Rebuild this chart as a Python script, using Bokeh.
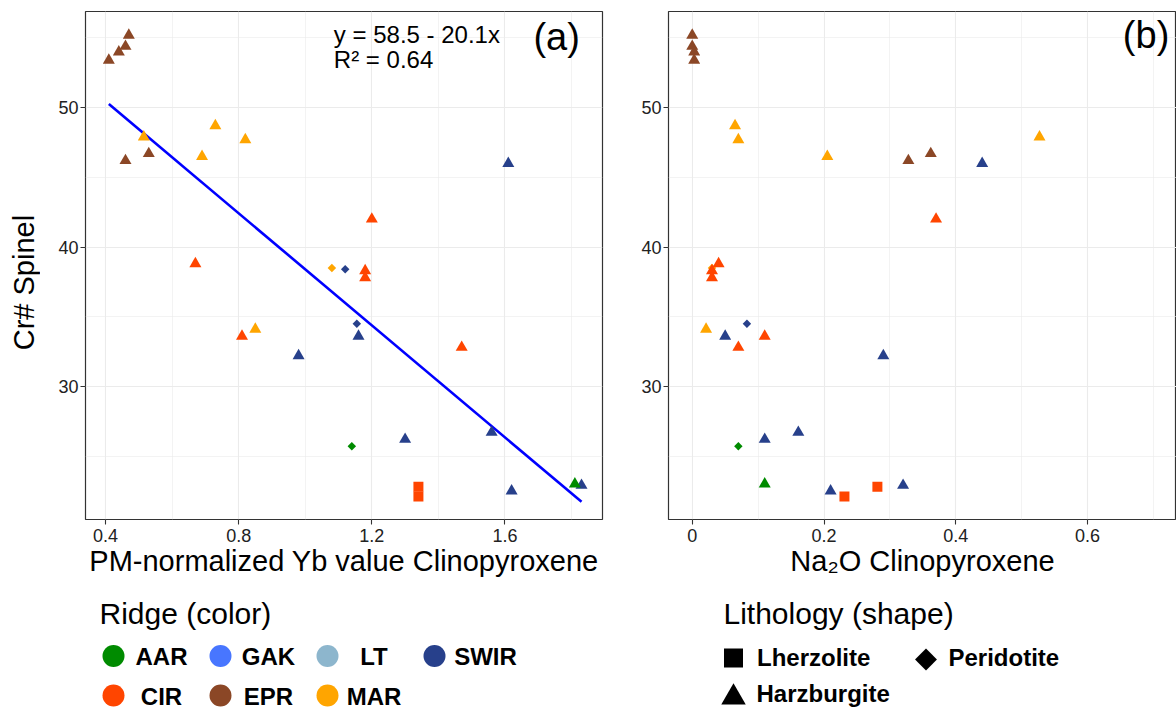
import math

from bokeh.core.properties import value
from bokeh.embed import file_html
from bokeh.layouts import column, row
from bokeh.models import ColumnDataSource, FixedTicker, Label, Range1d
from bokeh.plotting import figure
from bokeh.resources import INLINE

# ---- samples -------------------------------------------------------------
ridge = ["EPR", "EPR", "EPR", "EPR", "EPR", "EPR",
         "MAR", "MAR", "MAR", "MAR", "MAR", "MAR",
         "CIR", "CIR", "CIR", "CIR", "CIR", "CIR", "CIR", "CIR",
         "SWIR", "SWIR", "SWIR", "SWIR", "SWIR", "SWIR", "SWIR", "SWIR", "SWIR",
         "AAR", "AAR"]
lithology = ["Harzburgite"] * 6 + \
            ["Harzburgite"] * 5 + ["Peridotite"] + \
            ["Harzburgite"] * 6 + ["Lherzolite"] * 2 + \
            ["Harzburgite", "Peridotite", "Peridotite", "Harzburgite", "Harzburgite",
             "Harzburgite", "Harzburgite", "Harzburgite", "Harzburgite"] + \
            ["Peridotite", "Harzburgite"]
yb_pm = [0.47, 0.46, 0.44, 0.41, 0.46, 0.53,
         0.515, 0.73, 0.82, 0.69, 0.85, 1.08,
         0.67, 0.81, 1.18, 1.18, 1.47, 1.20, 1.34, 1.34,
         0.98, 1.12, 1.155, 1.16, 1.30, 1.56, 1.62, 1.83, 1.61,
         1.14, 1.81]
na2o_cpx = [0.000, 0.000, 0.003, 0.003, 0.328, 0.362,
            0.527, 0.065, 0.070, 0.205, 0.021, 0.030,
            0.040, 0.110, 0.030, 0.030, 0.070, 0.370, 0.281, 0.231,
            0.290, float("nan"), 0.083, 0.050, 0.110, 0.161, 0.210, 0.320, 0.440,
            0.070, 0.110]
cr_spinel = [55.2, 54.4, 54.0, 53.4, 46.2, 46.7,
             47.9, 48.7, 47.7, 46.5, 34.1, 38.5,
             38.8, 33.6, 38.3, 37.8, 32.8, 42.0, 22.8, 22.1,
             32.2, 38.4, 34.5, 33.6, 26.2, 26.7, 22.5, 22.9, 46.0,
             25.7, 23.0]

# linear fit of Cr# against PM-normalized Yb
fit_intercept = 58.5
fit_slope = -20.1
fit_r2 = 0.64

ridge_legend_rows = [["AAR", "GAK", "LT", "SWIR"], ["CIR", "EPR", "MAR"]]
ridge_colors = {"AAR": "#008B00", "GAK": "#4876FF", "LT": "#8DB6CD", "SWIR": "#27408B",
                "CIR": "#FF4500", "EPR": "#8B4726", "MAR": "#FFA500"}
lith_legend = ["Lherzolite", "Peridotite", "Harzburgite"]

x_ticks_a = [0.4, 0.8, 1.2, 1.6]
x_minor_a = [0.6, 1.0, 1.4, 1.8]
x_ticks_b = [0.0, 0.2, 0.4, 0.6]
x_minor_b = [0.1, 0.3, 0.5, 0.7]
y_ticks = [30, 40, 50]
y_minor = [25, 35, 45, 55]

# ---- styling -------------------------------------------------------------
FONT = "Liberation Sans"
marker_style = {
    "Harzburgite": ("triangle", 12.0, 0.0),
    "Lherzolite": ("square", 10.0, 0.0),
    "Peridotite": ("square", 6.0, math.pi / 4),
}

src = ColumnDataSource(dict(
    yb=yb_pm,
    na2o=na2o_cpx,
    cr=cr_spinel,
    color=[ridge_colors[r] for r in ridge],
    marker=[marker_style[l][0] for l in lithology],
    size=[marker_style[l][1] for l in lithology],
    angle=[marker_style[l][2] for l in lithology],
))

Y_RANGE = (20.45, 56.9)
TOP_H = 594  # height of the two panels incl. their axes


def style_panel(p, xt, xm):
    p.outline_line_color = "#333333"
    p.outline_line_width = 1.2
    p.background_fill_color = "white"
    p.border_fill_color = "white"
    for ax in (p.xaxis[0], p.yaxis[0]):
        ax.axis_line_color = None
        ax.major_tick_line_color = "#333333"
        ax.major_tick_line_width = 1.1
        ax.major_tick_in = 0
        ax.major_tick_out = 5
        ax.minor_tick_line_color = None
        ax.major_label_text_font = FONT
        ax.major_label_text_font_size = "18px"
        ax.major_label_text_color = "#222222"
        ax.axis_label_text_font = FONT
        ax.axis_label_text_font_size = "29px"
        ax.axis_label_text_font_style = "normal"
        ax.axis_label_text_color = "black"
    p.xaxis[0].ticker = FixedTicker(ticks=xt, minor_ticks=xm)
    p.yaxis[0].ticker = FixedTicker(ticks=y_ticks, minor_ticks=y_minor)
    p.xaxis[0].major_label_standoff = 4
    p.yaxis[0].major_label_standoff = 2
    p.xaxis[0].axis_label_standoff = 0
    for g in p.grid:
        g.grid_line_color = "#EBEBEB"
        g.grid_line_width = 1.1
        g.minor_grid_line_color = "#EBEBEB"
        g.minor_grid_line_width = 0.6


def add_points(p, xcol):
    p.scatter(x=xcol, y="cr", source=src, marker="marker", size="size", angle="angle",
              fill_color="color", line_color=None)


def blank_canvas(w, h, x_range, y_range):
    c = figure(width=w, height=h, min_border=0, x_range=x_range, y_range=y_range,
               x_axis_location=None, y_axis_location=None,
               output_backend="svg", toolbar_location=None)
    c.outline_line_color = None
    c.grid.visible = False
    c.background_fill_color = "white"
    c.border_fill_color = "white"
    return c


# ---- y title strip -------------------------------------------------------
p0 = blank_canvas(40, TOP_H, Range1d(0, 40), Range1d(0, TOP_H))
p0.text(x=[23], y=[TOP_H - 317], text=["Cr# Spinel"], angle=math.pi / 2,
        text_align="center", text_baseline="alphabetic", text_font=value(FONT),
        text_font_size="29px", text_color="black")

# ---- panel (a) -----------------------------------------------------------
p1 = figure(frame_width=517, frame_height=508,
            min_border_left=45, min_border_right=8, min_border_top=11, min_border_bottom=75,
            x_range=Range1d(0.3399, 1.893), y_range=Range1d(*Y_RANGE),
            output_backend="svg", toolbar_location=None)
style_panel(p1, x_ticks_a, x_minor_a)
p1.xaxis[0].axis_label = "PM-normalized Yb value Clinopyroxene"

fit_x = [min(yb_pm), max(yb_pm)]
fit_y = [fit_intercept + fit_slope * v for v in fit_x]
p1.line(fit_x, fit_y, line_color="#0000FF", line_width=2.6)
add_points(p1, "yb")

p1.add_layout(Label(x=1.086, y=55.24, text=f"y = {fit_intercept} - {abs(fit_slope)}x",
                    text_font=FONT, text_font_size="24px", text_color="black",
                    text_baseline="alphabetic"))
p1.add_layout(Label(x=1.086, y=53.49, text=f"R\u00b2 = {fit_r2}",
                    text_font=FONT, text_font_size="24px", text_color="black",
                    text_baseline="alphabetic"))
p1.add_layout(Label(x=1.825, y=55.09, text="(a)", text_align="right",
                    text_font=FONT, text_font_size="38px", text_color="black",
                    text_baseline="alphabetic"))

# ---- panel (b) -----------------------------------------------------------
p2 = figure(frame_width=508, frame_height=508,
            min_border_left=58, min_border_right=0, min_border_top=11, min_border_bottom=75,
            x_range=Range1d(-0.036, 0.7349), y_range=Range1d(*Y_RANGE),
            output_backend="svg", toolbar_location=None)
style_panel(p2, x_ticks_b, x_minor_b)
p2.xaxis[0].axis_label = "Na\u2082O Clinopyroxene"
p2.xaxis[0].major_label_overrides = {0: "0"}
add_points(p2, "na2o")
p2.add_layout(Label(x=0.724, y=55.22, text="(b)", text_align="right",
                    text_font=FONT, text_font_size="38px", text_color="black",
                    text_baseline="alphabetic"))

# ---- legends -------------------------------------------------------------
p3 = blank_canvas(1176, 709 - TOP_H, Range1d(0, 1176), Range1d(709, TOP_H))

title_kw = dict(text_font=value(FONT), text_font_size="30px", text_color="black",
                text_baseline="alphabetic")
item_kw = dict(text_font=value(FONT), text_font_size="24px", text_font_style="bold",
               text_color="black", text_baseline="alphabetic")

p3.text(x=[99], y=[613], text=["Ridge (color)"], **title_kw)
key_x = [113, 220, 327, 434]
label_cx = [161, 268, 373.5, 485]
row_y = [655.5, 695]
for ri, names in enumerate(ridge_legend_rows):
    n = len(names)
    p3.scatter(x=key_x[:n], y=[row_y[ri]] * n, marker="circle", size=22,
               fill_color=[ridge_colors[k] for k in names], line_color=None)
    p3.text(x=label_cx[:n], y=[row_y[ri] + 0.5] * n, text=names, text_align="center", **item_kw)

p3.text(x=[723], y=[613], text=["Lithology (shape)"], **title_kw)
lith_pos = {"Lherzolite": (733, 657.5, 756.5, 657),
            "Peridotite": (925.5, 659, 948, 657),
            "Harzburgite": (733, 697, 756, 693)}
lith_key = {"Lherzolite": ("square", 19, 0.0),
            "Peridotite": ("square", 15.5, math.pi / 4),
            "Harzburgite": ("triangle", 24.5, 0.0)}
for name in lith_legend:
    kx, ky, tx, ty = lith_pos[name]
    mk, sz, ang = lith_key[name]
    p3.scatter(x=[kx], y=[ky], marker=mk, size=sz, angle=ang,
               fill_color="black", line_color=None)
    p3.text(x=[tx], y=[ty], text=[name], text_align="left", **item_kw)

layout = column(row(p0, p1, p2), p3)
open("out.html", "w").write(file_html(layout, INLINE))
